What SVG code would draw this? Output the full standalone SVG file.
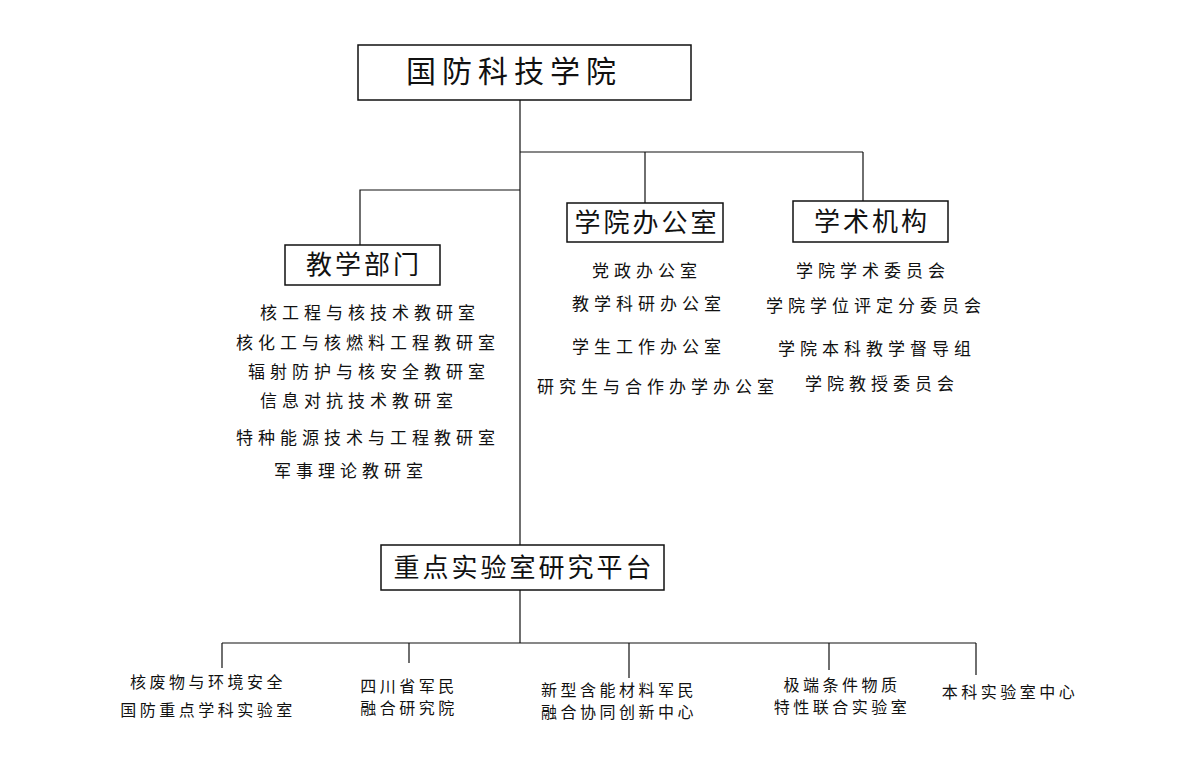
<svg xmlns="http://www.w3.org/2000/svg" width="1190" height="759" viewBox="0 0 1190 759">
<style>
text{font-family:"Noto Sans CJK SC","Noto Sans",sans-serif;fill:#111}
.box{fill:#fff;stroke:#111;stroke-width:1.5}
.l{stroke:#111;stroke-width:1.2;fill:none}
.t{font-size:26px;text-anchor:middle;letter-spacing:3px}
.s{font-size:17px;text-anchor:middle;letter-spacing:5px}
.b{font-size:16px;text-anchor:middle;letter-spacing:3.5px}
</style>
<rect width="1190" height="759" fill="#fff"/>
<g id="connectors">
<path class="l" d="M520,100V545M520,590V643M520,152H863M645,152V203M863,152V201M520,190H360V245M222,643H976M222,643V668M409,643V663M629,643V678M829,643V670M976,643V675"/>
</g>
<g id="root"><rect class="box" x="358" y="45" width="333" height="55"/><text class="t" x="514" y="82" style="font-size:30px;letter-spacing:6px">国防科技学院</text></g>
<g id="teaching"><rect class="box" x="285" y="245" width="155" height="40"/><text class="t" x="364" y="274">教学部门</text>
<text class="s" x="370" y="319">核工程与核技术教研室</text>
<text class="s" x="368" y="349">核化工与核燃料工程教研室</text>
<text class="s" x="369" y="378">辐射防护与核安全教研室</text>
<text class="s" x="359" y="407">信息对抗技术教研室</text>
<text class="s" x="368" y="444">特种能源技术与工程教研室</text>
<text class="s" x="351" y="477">军事理论教研室</text></g>
<g id="office"><rect class="box" x="567" y="203" width="156" height="39"/><text class="t" x="647" y="232">学院办公室</text>
<text class="s" x="647" y="277">党政办公室</text>
<text class="s" x="649" y="310">教学科研办公室</text>
<text class="s" x="649" y="353">学生工作办公室</text>
<text class="s" x="658" y="393">研究生与合作办学办公室</text></g>
<g id="academic"><rect class="box" x="793" y="201" width="155" height="41"/><text class="t" x="872" y="231">学术机构</text>
<text class="s" x="873" y="277">学院学术委员会</text>
<text class="s" x="876" y="312">学院学位评定分委员会</text>
<text class="s" x="877" y="355">学院本科教学督导组</text>
<text class="s" x="882" y="390">学院教授委员会</text></g>
<g id="platform"><rect class="box" x="381" y="545" width="283" height="45"/><text class="t" x="524" y="577">重点实验室研究平台</text></g>
<g id="lab1"><text class="b" x="208" y="688">核废物与环境安全</text><text class="b" x="208" y="716">国防重点学科实验室</text></g>
<g id="lab2"><text class="b" x="409" y="692">四川省军民</text><text class="b" x="409" y="714">融合研究院</text></g>
<g id="lab3"><text class="b" x="619" y="696">新型含能材料军民</text><text class="b" x="619" y="718">融合协同创新中心</text></g>
<g id="lab4"><text class="b" x="842" y="691">极端条件物质</text><text class="b" x="842" y="713">特性联合实验室</text></g>
<g id="lab5"><text class="b" x="1010" y="698">本科实验室中心</text></g>
</svg>
